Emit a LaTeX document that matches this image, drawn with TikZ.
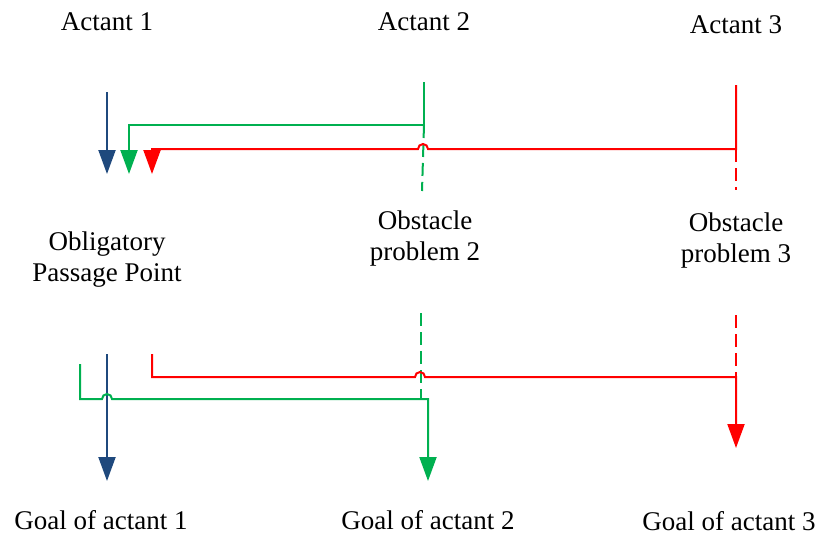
\documentclass[tikz,border=0pt]{standalone}
\usepackage{fontspec}
\setmainfont{Liberation Serif}
\usetikzlibrary{arrows.meta}
\definecolor{actblue}{RGB}{31,73,125}
\definecolor{actgreen}{RGB}{0,176,80}
\definecolor{actred}{RGB}{255,0,0}
\tikzset{
  flow/.style={line width=2pt},
  tip/.style={-{Triangle[width=17pt,length=24pt]}},
  gap/.style={dash pattern=on 13pt off 6pt},
  lbl/.style={font=\fontsize{27}{31}\selectfont, anchor=base, align=center, inner sep=0pt}
}
\begin{document}
\begin{tikzpicture}[x=1pt,y=-1pt]
\useasboundingbox (0,0) rectangle (825,536);

% labels (multi-line labels sit on the baseline of their last line)
\node[lbl] (a1) at (107,30) {Actant 1};
\node[lbl] (a2) at (424,30) {Actant 2};
\node[lbl] (a3) at (736,33) {Actant 3};
\node[lbl] (opp) at (107,281) {Obligatory\\Passage Point};
\node[lbl] (ob2) at (425,260) {Obstacle\\problem 2};
\node[lbl] (ob3) at (736,262) {Obstacle\\problem 3};
\node[lbl] (g1) at (101,529) {Goal of actant 1};
\node[lbl] (g2) at (428,529) {Goal of actant 2};
\node[lbl] (g3) at (729,530) {Goal of actant 3};

% anchor points of the connectors
\coordinate (b1s) at (107,92);
\coordinate (b1e) at (107,174);
\coordinate (g2s) at (424,82);
\coordinate (g2c) at (424,125);
\coordinate (g1e) at (129,174);
\coordinate (r3s) at (736,85);
\coordinate (r3c) at (736,149);
\coordinate (r1e) at (152,174);
\coordinate (g2d) at (422,191);
\coordinate (r3d) at (736,190);

\coordinate (b1t) at (107,354);
\coordinate (b1g) at (107,481);
\coordinate (r1t) at (152,354);
\coordinate (r3g) at (736,448);
\coordinate (g1t) at (80,364);
\coordinate (g2g) at (428,481);
\coordinate (g2u) at (421,313);
\coordinate (r3u) at (736,315);

% upper part: actants heading towards the passage point
\draw[flow, actblue, tip] (b1s) -- (b1e);
\draw[flow, actgreen, gap] (g2c) -- (g2d);
\draw[flow, actred, gap] (r3c) -- (r3d);
\draw[flow, actgreen, tip] (g2s) -- (g2c) -- (g1e |- g2c) -- (g1e);
\draw[flow, actred, tip] (r3s) -- (r3c) -- (428,149)
  arc[start angle=0, end angle=180, radius=5pt] -- (r1e |- r3c) -- (r1e);

% lower part: from the passage point to the goals
\draw[flow, actgreen, gap] (g2u) -- (421,399);
\draw[flow, actred, gap] (r3u) -- (736,377);
\draw[flow, actblue, tip] (b1t) -- (b1g);
\draw[flow, actred, tip] (r1t) -- (152,377) -- (415,377)
  arc[start angle=180, end angle=0, radius=5pt] -- (736,377) -- (r3g);
\draw[flow, actgreen, tip] (g1t) -- (80,399) -- (102,399)
  arc[start angle=180, end angle=0, radius=5pt] -- (428,399) -- (g2g);
\end{tikzpicture}
\end{document}
